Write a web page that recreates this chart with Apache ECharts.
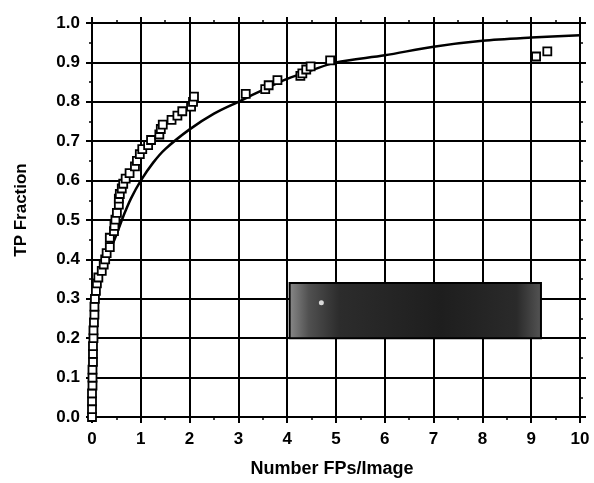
<!DOCTYPE html>
<html>
<head>
<meta charset="utf-8">
<script src="https://cdn.jsdelivr.net/npm/echarts@6/dist/echarts.min.js"></script>
<style>
html,body{margin:0;padding:0;background:#fff;}
#chart{width:594px;height:483px;}
</style>
</head>
<body>
<div id="chart"></div>
<script>
// Observed operating points (FPs per image, TP fraction)
var obsX = [0.00,0.00,0.00,0.00,0.01,0.01,0.01,0.02,0.02,0.02,0.03,0.03,0.04,0.05,0.05,0.06,0.08,0.10,0.13,0.20,0.24,0.27,0.30,0.365,0.365,0.45,0.46,0.48,0.51,0.55,0.55,0.57,0.61,0.64,0.69,0.77,0.88,0.92,0.98,1.03,1.15,1.21,1.38,1.41,1.45,1.63,1.75,1.85,2.03,2.07,2.09,3.15,3.55,3.62,3.80,4.27,4.31,4.39,4.48,4.88,9.10,9.33];
var obsY = [0.00,0.02,0.04,0.06,0.08,0.10,0.12,0.14,0.16,0.18,0.20,0.22,0.24,0.26,0.28,0.30,0.32,0.339,0.354,0.371,0.387,0.40,0.416,0.431,0.455,0.472,0.485,0.501,0.518,0.539,0.554,0.566,0.58,0.592,0.605,0.619,0.636,0.65,0.667,0.68,0.69,0.703,0.717,0.731,0.742,0.754,0.765,0.776,0.788,0.80,0.813,0.82,0.832,0.842,0.855,0.866,0.872,0.882,0.89,0.905,0.915,0.928];
// Fitted curve
var fitX = [0,0.005,0.02,0.04,0.07,0.12,0.2,0.3,0.46,0.66,0.8,1.0,1.25,1.5,2.0,2.5,3.0,3.5,4.0,4.5,5.0,6.0,7.0,8.0,9.0,10.0];
var fitY = [0,0.10,0.20,0.26,0.32,0.35,0.38,0.41,0.45,0.515,0.555,0.60,0.645,0.68,0.73,0.77,0.80,0.83,0.858,0.88,0.90,0.918,0.94,0.955,0.963,0.969];
// Obscured box (data coords) and its dot
var boxX = [4.05, 9.2];
var boxY = [0.2, 0.34];
var dotX = [4.7];
var dotY = [0.29];

var xTitle = 'Number FPs/Image';
var yTitle = 'TP Fraction';

function zip(a, b){ return a.map(function(v,i){ return [v, b[i]]; }); }

var font = 'Liberation Sans, Arial, sans-serif';
var chart = echarts.init(document.getElementById('chart'), null, {renderer:'canvas'});

var baseX = {
  type:'value', min:0, max:10, interval:1,
  axisLine:{show:true, onZero:false, lineStyle:{color:'#000', width:2}},
  minorTick:{show:true, splitNumber:2, length:3, lineStyle:{color:'#000', width:1.5}},
  axisTick:{show:true, inside:false, length:6, lineStyle:{color:'#000', width:2}}
};
var baseY = {
  type:'value', min:0, max:1, interval:0.1,
  axisLine:{show:true, onZero:false, lineStyle:{color:'#000', width:2}},
  minorTick:{show:true, splitNumber:2, length:3, lineStyle:{color:'#000', width:1.5}},
  axisTick:{show:true, inside:false, length:6, lineStyle:{color:'#000', width:2}}
};

var option = {
  backgroundColor:'#fff',
  animation:false,
  grid:{left:92, right:14, top:23, bottom:63},
  xAxis:[
    Object.assign({}, baseX, {
      position:'bottom',
      name:xTitle, nameLocation:'middle', nameGap:43,
      nameTextStyle:{fontFamily:font, fontWeight:'bold', fontSize:18, color:'#000', padding:[0,8,0,0]},
      axisLabel:{fontFamily:font, fontWeight:'bold', fontSize:17, color:'#000', margin:14},
      splitLine:{show:true, lineStyle:{color:'#000', width:2}}
    }),
    Object.assign({}, baseX, {
      position:'top', axisLabel:{show:false}, splitLine:{show:false}
    })
  ],
  yAxis:[
    Object.assign({}, baseY, {
      position:'left',
      name:yTitle, nameLocation:'middle', nameGap:62,
      nameTextStyle:{fontFamily:font, fontWeight:'bold', fontSize:17, color:'#000', padding:[0,0,0,20]},
      axisLabel:{fontFamily:font, fontWeight:'bold', fontSize:17, color:'#000', margin:12,
        formatter:function(v){ return v.toFixed(1); }},
      splitLine:{show:true, lineStyle:{color:'#000', width:2}}
    }),
    Object.assign({}, baseY, {
      position:'right', axisLabel:{show:false}, splitLine:{show:false}
    })
  ],
  series:[
    {
      type:'line', data:zip(fitX, fitY), smooth:0.3, showSymbol:false,
      lineStyle:{color:'#000', width:2.5}, z:3,
      markArea:{
        silent:true,
        itemStyle:{
          color:{type:'linear', x:0, y:0, x2:1, y2:0, colorStops:[
            {offset:0, color:'#8a8a8a'},
            {offset:0.08, color:'#505050'},
            {offset:0.2, color:'#2c2c2c'},
            {offset:0.6, color:'#1e1e1e'},
            {offset:0.9, color:'#2a2a2a'},
            {offset:1, color:'#555555'}
          ]},
          borderColor:'#000', borderWidth:2
        },
        data:[[{xAxis:boxX[0], yAxis:boxY[0]}, {xAxis:boxX[1], yAxis:boxY[1]}]]
      }
    },
    {
      type:'scatter', data:zip(obsX, obsY), symbol:'rect', symbolSize:8,
      itemStyle:{color:'#fff', borderColor:'#000', borderWidth:1.8, opacity:1}, z:4
    },
    {
      type:'scatter', data:zip(dotX, dotY), symbol:'circle', symbolSize:5,
      itemStyle:{color:'#fff', borderWidth:0}, z:5
    }
  ]
};
chart.setOption(option);
</script>
</body>
</html>
